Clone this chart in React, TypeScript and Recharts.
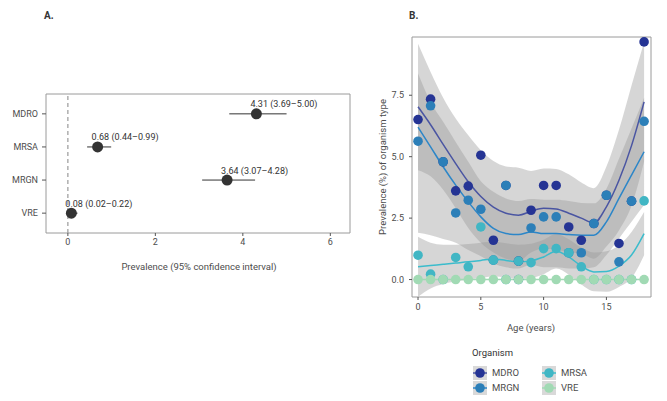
import React from 'react';
import {
  ScatterChart, ComposedChart, Scatter, Line, Area, XAxis, YAxis,
  ErrorBar, ReferenceArea, ReferenceLine,
} from 'recharts';

// Panel A: overall prevalence with 95% CI
const organisms = ['MDRO', 'MRSA', 'MRGN', 'VRE'];
const prevalence = [4.31, 0.68, 3.64, 0.08];
const ciLow = [3.69, 0.44, 3.07, 0.02];
const ciHigh = [5.0, 0.99, 4.28, 0.22];
const prevTicks = [0, 2, 4, 6];

// Panel B: prevalence by age
const ages = [0, 1, 2, 3, 4, 5, 6, 7, 8, 9, 10, 11, 12, 13, 14, 15, 16, 17, 18];
const mdroPrev = [6.51, 7.34, 4.79, 3.61, 3.8, 5.06, 1.6, 3.83, 0.75, 2.82, 3.83, 3.83, 2.14, 1.6, 2.28, 3.43, 1.47, 3.19, 9.67];
const mrgnPrev = [5.63, 7.07, 4.79, 2.71, 3.23, 2.86, 0.79, 3.83, 0.0, 2.1, 2.55, 2.55, 1.09, 1.09, 2.28, 3.43, 0.72, 3.19, 6.44];
const mrsaPrev = [0.99, 0.22, 0.0, 0.9, 0.52, 2.14, 0.79, 0.0, 0.75, 0.69, 1.26, 1.26, 1.09, 0.52, 0.0, 0.0, 0.0, 0.0, 3.2];
const vrePrev = [0, 0, 0, 0, 0, 0, 0, 0, 0, 0, 0, 0, 0, 0, 0, 0, 0, 0, 0];

// smoothed fits and confidence bands
const mdroFit = [7.03, 6.3, 5.5, 4.72, 3.98, 3.38, 2.95, 2.7, 2.62, 2.78, 2.9, 2.87, 2.7, 2.5, 2.3, 2.96, 4.04, 5.45, 7.23];
const mdroHigh = [9.6, 8.45, 7.4, 6.55, 5.87, 5.26, 4.82, 4.6, 4.55, 4.42, 4.52, 4.5, 4.28, 3.95, 3.72, 4.6, 6.1, 7.9, 9.67];
const mdroLow = [4.45, 4.2, 3.65, 2.9, 2.1, 1.5, 1.1, 0.85, 0.75, 1.1, 1.25, 1.22, 1.1, 1.05, 0.85, 1.35, 2.0, 3.0, 4.8];
const mrgnFit = [6.2, 5.4, 4.59, 3.84, 3.16, 2.55, 2.08, 1.87, 1.83, 1.94, 1.87, 1.87, 1.83, 1.8, 1.8, 2.35, 3.3, 4.25, 5.2];
const mrgnHigh = [8.38, 7.23, 6.42, 5.6, 4.79, 4.0, 3.57, 3.3, 3.2, 3.28, 3.25, 3.25, 3.2, 3.12, 3.1, 3.7, 4.92, 6.15, 7.4];
const mrgnLow = [1.9, 1.8, 1.65, 1.5, 1.2, 0.95, 0.65, 0.5, 0.45, 0.6, 0.5, 0.5, 0.45, 0.45, 0.5, 1.0, 1.67, 2.35, 3.03];
const mrsaFit = [0.52, 0.57, 0.62, 0.67, 0.72, 0.78, 0.84, 0.78, 0.72, 0.76, 0.92, 1.15, 0.92, 0.55, 0.31, 0.33, 0.55, 1.0, 1.87];
const mrsaHigh = [1.74, 1.5, 1.42, 1.42, 1.45, 1.5, 1.55, 1.48, 1.42, 1.46, 1.62, 1.85, 1.64, 1.3, 1.1, 1.15, 1.4, 1.94, 2.75];
const mrsaLow = [-0.7, -0.36, -0.18, -0.08, 0.0, 0.06, 0.13, 0.08, 0.02, 0.06, 0.22, 0.45, 0.2, -0.2, -0.48, -0.5, -0.3, 0.06, 0.99];
const vreFit = [0, 0, 0, 0, 0, 0, 0, 0, 0, 0, 0, 0, 0, 0, 0, 0, 0, 0, 0];
const ageTicks = [0, 5, 10, 15];
const prevalenceTicks = [0, 2.5, 5, 7.5];

const legendLeft = ['MDRO', 'MRGN'];
const legendRight = ['MRSA', 'VRE'];

const pointColor: Record<string, string> = {
  MDRO: '#253494', MRGN: '#2c7fb8', MRSA: '#41b6c4', VRE: '#a1dab4',
};
const lineColor: Record<string, string> = {
  MDRO: '#4a55a2', MRGN: '#2c86c8', MRSA: '#3bbccc', VRE: '#a1dab4',
};

const FONT = "'Liberation Sans Narrow', Roboto, sans-serif";
const TEXT = '#4d4d4d';

const forestData = organisms.map((name, i) => ({
  name,
  x: prevalence[i],
  y: organisms.length - i,
  err: [prevalence[i] - ciLow[i], ciHigh[i] - prevalence[i]],
  label: `${prevalence[i].toFixed(2)} (${ciLow[i].toFixed(2)}–${ciHigh[i].toFixed(2)})`,
}));

const table = ages.map((age, i) => ({
  age,
  mdroBand: [mdroLow[i], mdroHigh[i]],
  mrgnBand: [mrgnLow[i], mrgnHigh[i]],
  mrsaBand: [mrsaLow[i], mrsaHigh[i]],
  mdroFit: mdroFit[i],
  mrgnFit: mrgnFit[i],
  mrsaFit: mrsaFit[i],
  vreFit: vreFit[i],
}));

const points = (vals: number[]) => ages.map((age, i) => ({ age, v: vals[i] }));

const ForestDot = (p: any) => (
  <g>
    <circle cx={p.cx} cy={p.cy} r={5.5} fill="#333" />
    <text x={p.cx - 6} y={p.cy - 6.5} fontSize={9} fill="#333" fontFamily={FONT}>
      {p.payload.label}
    </text>
  </g>
);

const dot = (color: string) => (p: any) => <circle cx={p.cx} cy={p.cy} r={4.8} fill={color} />;

const abs = (left: number, top: number, extra: React.CSSProperties = {}): React.CSSProperties => ({
  position: 'absolute', left, top, fontFamily: FONT, color: TEXT, fontSize: 9.5, lineHeight: '12px', whiteSpace: 'nowrap', ...extra,
});

const LegendKey = ({ name }: { name: string }) => (
  <svg width={14} height={14} style={{ display: 'block' }}>
    <rect x={0} y={0} width={14} height={14} fill="#d9d9d9" />
    <line x1={0} y1={7} x2={14} y2={7} stroke={lineColor[name]} strokeWidth={1.5} />
    <circle cx={7} cy={7} r={4.8} fill={pointColor[name]} />
  </svg>
);

const App: React.FC = () => (
  <div style={{ position: 'absolute', left: 0, top: 0, width: 667, height: 401, background: '#fff' }}>
    <div style={abs(44, 10, { fontWeight: 'bold', color: '#333', fontSize: 10 })}>A.</div>
    <div style={abs(409, 10, { fontWeight: 'bold', color: '#333', fontSize: 10 })}>B.</div>

    <div style={{ position: 'absolute', left: 0, top: 0 }}>
      <ScatterChart width={358} height={290} margin={{ top: 94, right: 8, bottom: 37, left: 0 }}>
        <XAxis type="number" dataKey="x" domain={[-0.5, 6.45]} ticks={prevTicks} allowDataOverflow
          axisLine={false} tickLine={{ stroke: '#555' }} tickSize={3} tickMargin={3} height={20}
          tick={{ fontSize: 9, fill: TEXT, fontFamily: FONT }} />
        <YAxis type="number" dataKey="y" domain={[0.4, 4.6]} ticks={[1, 2, 3, 4]} allowDataOverflow
          tickFormatter={(v: number) => organisms[organisms.length - v]}
          axisLine={false} tickLine={{ stroke: '#555' }} tickSize={4} tickMargin={4} width={46}
          tick={{ fontSize: 9, fill: TEXT, fontFamily: FONT }} />
        <ReferenceArea x1={-0.5} x2={6.45} y1={0.4} y2={4.6} fill="none" stroke="#9a9a9a" />
        <ReferenceLine x={0} stroke="#9a9a9a" strokeDasharray="4 3" strokeWidth={1.2} />
        <Scatter data={forestData} shape={ForestDot} isAnimationActive={false}>
          <ErrorBar dataKey="err" direction="x" width={0} stroke="#333" strokeWidth={1} />
        </Scatter>
      </ScatterChart>
    </div>
    <div style={abs(199, 261, { transform: 'translateX(-50%)' })}>Prevalence (95% confidence interval)</div>

    <div style={{ position: 'absolute', left: 370, top: 0 }}>
      <ComposedChart width={290} height={320} data={table} margin={{ top: 37, right: 9, bottom: 3, left: 0 }}>
        <XAxis type="number" dataKey="age" domain={[-0.48, 18.55]} ticks={ageTicks} allowDataOverflow
          axisLine={false} tickLine={{ stroke: '#555' }} tickSize={3} tickMargin={4} height={20}
          tick={{ fontSize: 9, fill: TEXT, fontFamily: FONT }} />
        <YAxis type="number" domain={[-0.71, 9.87]} ticks={prevalenceTicks} allowDataOverflow
          tickFormatter={(v: number) => v.toFixed(1)}
          axisLine={false} tickLine={{ stroke: '#555' }} tickSize={3} tickMargin={5} width={42}
          tick={{ fontSize: 9, fill: TEXT, fontFamily: FONT }} />
        <ReferenceArea x1={-0.48} x2={18.55} y1={-0.71} y2={9.87} fill="none" stroke="#9a9a9a" />
        <Area type="monotone" dataKey="mdroBand" fill="#999" fillOpacity={0.4} stroke="none" isAnimationActive={false} />
        <Area type="monotone" dataKey="mrgnBand" fill="#999" fillOpacity={0.4} stroke="none" isAnimationActive={false} />
        <Area type="monotone" dataKey="mrsaBand" fill="#999" fillOpacity={0.4} stroke="none" isAnimationActive={false} />
        <Line type="monotone" dataKey="mdroFit" stroke={lineColor.MDRO} strokeWidth={1.5} dot={false} isAnimationActive={false} />
        <Line type="monotone" dataKey="mrgnFit" stroke={lineColor.MRGN} strokeWidth={1.5} dot={false} isAnimationActive={false} />
        <Line type="monotone" dataKey="mrsaFit" stroke={lineColor.MRSA} strokeWidth={1.5} dot={false} isAnimationActive={false} />
        <Line type="monotone" dataKey="vreFit" stroke={lineColor.VRE} strokeWidth={1.5} dot={false} isAnimationActive={false} />
        <Scatter data={points(mdroPrev)} dataKey="v" shape={dot(pointColor.MDRO)} isAnimationActive={false} />
        <Scatter data={points(mrgnPrev)} dataKey="v" shape={dot(pointColor.MRGN)} isAnimationActive={false} />
        <Scatter data={points(mrsaPrev)} dataKey="v" shape={dot(pointColor.MRSA)} isAnimationActive={false} />
        <Scatter data={points(vrePrev)} dataKey="v" shape={dot(pointColor.VRE)} isAnimationActive={false} />
      </ComposedChart>
    </div>
    <div style={abs(383, 167, { transform: 'translate(-50%, -50%) rotate(-90deg)' })}>Prevalence (%) of organism type</div>
    <div style={abs(531, 322, { transform: 'translateX(-50%)' })}>Age (years)</div>

    {/* legend */}
    <div style={abs(472, 347, { color: '#333' })}>Organism</div>
    {[legendLeft, legendRight].map((col, c) => (
      <div key={c} style={{ position: 'absolute', left: c === 0 ? 473 : 542, top: 365 }}>
        {col.map((name) => (
          <div key={name} style={{ display: 'flex', alignItems: 'center', height: 15 }}>
            <LegendKey name={name} />
            <span style={{ marginLeft: 5, fontFamily: FONT, fontSize: 9.5, color: TEXT }}>{name}</span>
          </div>
        ))}
      </div>
    ))}
  </div>
);

export default App;
